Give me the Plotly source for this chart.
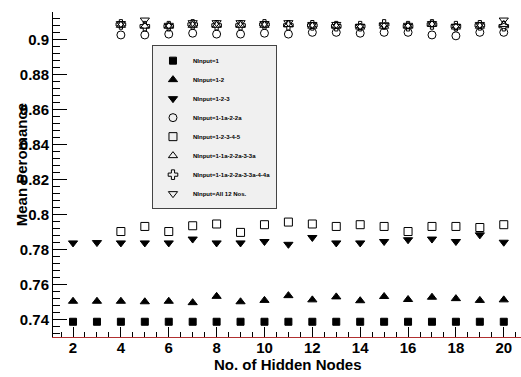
import plotly.graph_objects as go

hidden_all = list(range(2, 21))
hidden_4 = list(range(4, 21))

n1 = [0.7388] * 19
n12 = [0.7505, 0.7505, 0.7505, 0.7502, 0.7505, 0.7497, 0.7533, 0.7502, 0.7510,
       0.7537, 0.7513, 0.7530, 0.7508, 0.7532, 0.7515, 0.7528, 0.7520, 0.7510, 0.7513]
n123 = [0.7838, 0.7840, 0.7838, 0.7838, 0.7838, 0.7860, 0.7838, 0.7838, 0.7846,
        0.7830, 0.7869, 0.7838, 0.7838, 0.7846, 0.7856, 0.7860, 0.7846, 0.7884, 0.7842]
n11a22a = [0.9025, 0.9025, 0.9030, 0.9035, 0.9030, 0.9030, 0.9035, 0.9030, 0.9040,
           0.9040, 0.9035, 0.9040, 0.9040, 0.9025, 0.9020, 0.9040, 0.9040]
n12345 = [0.7903, 0.7932, 0.7903, 0.7936, 0.7946, 0.7898, 0.7942, 0.7957, 0.7946,
          0.7932, 0.7942, 0.7932, 0.7903, 0.7932, 0.7932, 0.7926, 0.7942]
n11a22a33a = [0.9080, 0.9075, 0.9075, 0.9080, 0.9080, 0.9080, 0.9080, 0.9085, 0.9075,
              0.9075, 0.9070, 0.9075, 0.9075, 0.9085, 0.9070, 0.9075, 0.9085]
n11a22a33a44a = [0.9085, 0.9075, 0.9075, 0.9085, 0.9080, 0.9080, 0.9085, 0.9080, 0.9080,
                 0.9075, 0.9075, 0.9085, 0.9075, 0.9085, 0.9075, 0.9080, 0.9075]
nall12 = [0.9090, 0.9110, 0.9080, 0.9095, 0.9095, 0.9095, 0.9090, 0.9095, 0.9085,
          0.9085, 0.9075, 0.9080, 0.9080, 0.9090, 0.9075, 0.9085, 0.9110]

series = [
    ("NInput=1", hidden_all, n1, "square", 7),
    ("NInput=1-2", hidden_all, n12, "triangle-up", 8),
    ("NInput=1-2-3", hidden_all, n123, "triangle-down", 8),
    ("NInput=1-1a-2-2a", hidden_4, n11a22a, "circle-open", 8),
    ("NInput=1-2-3-4-5", hidden_4, n12345, "square-open", 8),
    ("NInput=1-1a-2-2a-3-3a", hidden_4, n11a22a33a, "triangle-up-open", 8),
    ("NInput=1-1a-2-2a-3-3a-4-4a", hidden_4, n11a22a33a44a, "cross-open", 8),
    ("NInput=All 12 Nos.", hidden_4, nall12, "triangle-down-open", 8),
]

fig = go.Figure()
for name, xs, ys, sym, sz in series:
    fig.add_trace(go.Scatter(
        x=xs, y=ys, mode="markers", name=name,
        marker=dict(symbol=sym, size=sz, color="black",
                    line=dict(color="black", width=1)),
    ))

font_family = "Liberation Sans, Arial, sans-serif"

fig.update_layout(
    width=521, height=377,
    margin=dict(l=53, r=0, t=12, b=40, autoexpand=False),
    paper_bgcolor="white", plot_bgcolor="white",
    font=dict(family=font_family, color="black"),
    showlegend=True,
    legend=dict(
        x=0.2115, y=0.898, xanchor="left", yanchor="top",
        bgcolor="#f0f0f0", bordercolor="#444", borderwidth=1,
        font=dict(size=6, family=font_family, weight="bold", color="black"),
        itemwidth=30,
    ),
    xaxis=dict(
        range=[1.163, 20.72], showgrid=False, zeroline=False, automargin=False,
        tickmode="linear", tick0=0, dtick=2,
        ticks="inside", ticklen=10, tickcolor="black", tickwidth=1,
        minor=dict(dtick=0.5, tick0=0, ticks="inside", ticklen=5, tickcolor="black", showgrid=False),
        showline=True, linecolor="#b03030", linewidth=1,
        tickfont=dict(size=15, weight="bold", color="black"),
        ticklabelstandoff=-3,
    ),
    yaxis=dict(
        range=[0.7301, 0.9156], showgrid=False, zeroline=False, automargin=False,
        tickmode="linear", tick0=0.74, dtick=0.02,
        ticks="inside", ticklen=14, tickcolor="black", tickwidth=1,
        minor=dict(dtick=0.004, tick0=0.74, ticks="inside", ticklen=7, tickcolor="black", showgrid=False),
        showline=True, linecolor="black", linewidth=1,
        tickfont=dict(size=15, weight="bold", color="black"),
    ),
    annotations=[
        dict(
            text="Mean Peromance", xref="paper", yref="paper",
            x=-0.068, y=0.529, xanchor="center", yanchor="middle",
            textangle=-90, showarrow=False,
            font=dict(size=15, weight="bold", family=font_family, color="black"),
        ),
        dict(
            text="No. of Hidden Nodes", xref="paper", yref="paper",
            x=0.502, y=-0.086, xanchor="center", yanchor="middle",
            showarrow=False,
            font=dict(size=15, weight="bold", family=font_family, color="black"),
        ),
    ],
)

fig.write_html(
    "out.html",
    config={"displayModeBar": False},
    post_script="document.body.style.margin='0';document.body.style.overflow='hidden';",
)
